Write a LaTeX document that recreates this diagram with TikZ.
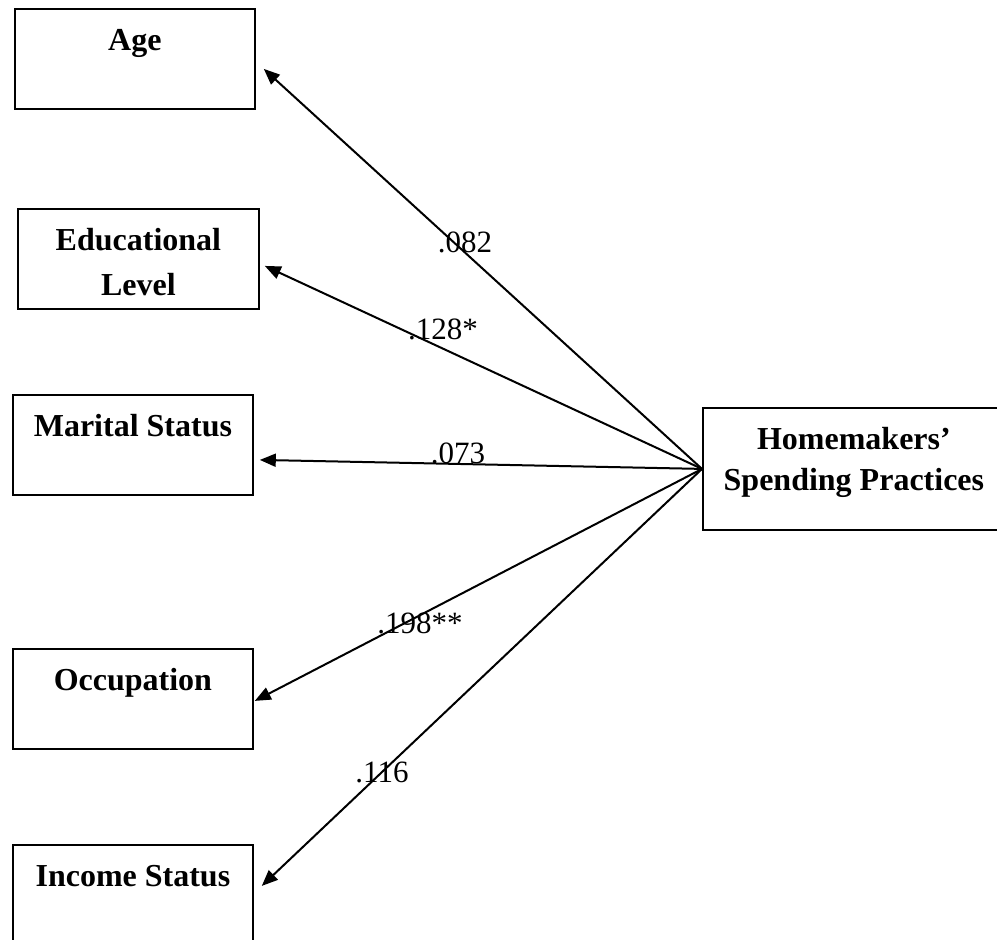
\documentclass[tikz,border=0pt]{standalone}
\usepackage{fontspec}
\setmainfont{Liberation Serif}
\usetikzlibrary{arrows.meta,calc}

\begin{document}
\begin{tikzpicture}[x=0.5pt,y=-0.5pt,
  factor/.style={draw,line width=0.9pt,anchor=north west,
    minimum width=120pt,inner xsep=0pt,inner ysep=0pt,align=center,
    text height=21pt,text depth=29pt,
    font=\fontsize{16}{22.5}\selectfont\bfseries},
  link/.style={line width=1pt,-{Triangle[length=8pt,width=6.5pt]}},
  coef/.style={inner sep=0pt,font=\fontsize{15.5}{18}\selectfont}]
\useasboundingbox (0,0) rectangle (997,939);

% Predictor boxes.
\node[factor] (age) at (14,8) {Age};
\node[factor,minimum width=120.5pt,text height=43.5pt,text depth=6.5pt]
  (edu) at (17,208) {Educational\\Level};
\node[factor] (marital) at (12,394) {Marital Status};
\node[factor] (occ) at (12,648) {Occupation};
\node[factor] (income) at (12,844) {Income Status};

% Outcome box.
\node[factor,minimum width=151pt,text height=41.5pt,text depth=19.5pt,
  font=\fontsize{16}{20.5}\selectfont\bfseries]
  (home) at (702,407) {Homemakers’\\Spending Practices};

% Paths.
\draw[link] (home.west) -- ($(age.east)+(8,10)$);
\draw[link] (home.west) -- ($(edu.east)+(5,7)$);
\draw[link] (home.west) -- ($(marital.east)+(6,15)$);
\draw[link] (home.west) -- ($(occ.east)+(1,2)$);
\draw[link] (home.west) -- ($(income.east)+(8,-9)$);

% Coefficients.
\node[coef] (cage) at (465,242) {.082};
\node[coef] (cedu) at (443,329) {.128*};
\node[coef] (cmar) at (458,453) {.073};
\node[coef] (cocc) at (420,623) {.198**};
\node[coef] (cinc) at (382,772) {.116};

\end{tikzpicture}
\end{document}
